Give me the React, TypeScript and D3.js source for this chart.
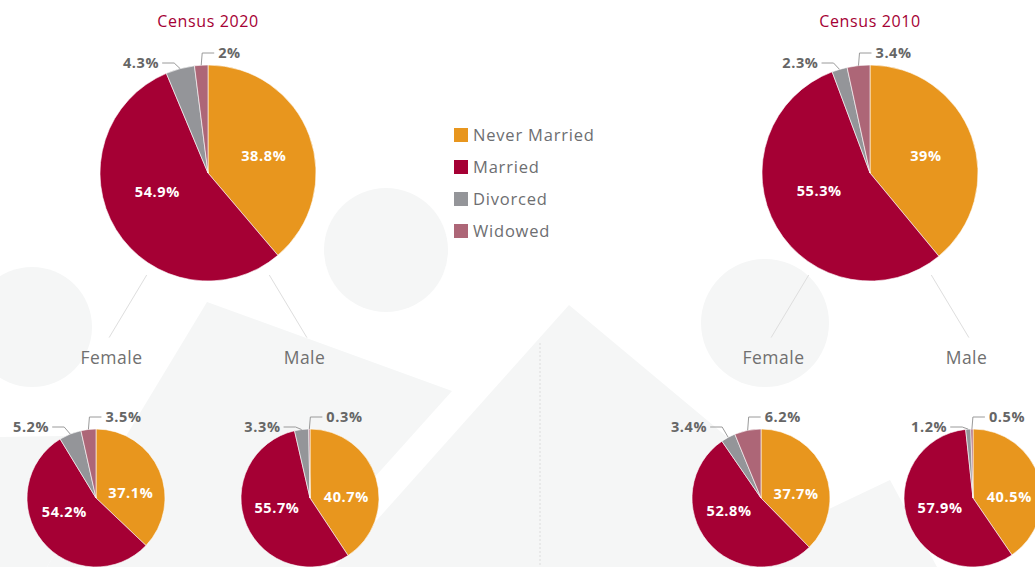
import React from "react";
import * as d3 from "d3";

const categories = ["Never Married", "Married", "Divorced", "Widowed"];
const colors = ["#E8961E", "#A50034", "#949599", "#AD6677"];

const census2020Total = [38.8, 54.9, 4.3, 2];
const census2020Female = [37.1, 54.2, 5.2, 3.5];
const census2020Male = [40.7, 55.7, 3.3, 0.3];
const census2010Total = [39, 55.3, 2.3, 3.4];
const census2010Female = [37.7, 52.8, 3.4, 6.2];
const census2010Male = [40.5, 57.9, 1.2, 0.5];

const titles = ["Census 2020", "Census 2010"];
const subLabels = ["Female", "Male"];

const W = 1035;
const H = 567;
const FONT = "'Open Sans', 'Noto Sans', sans-serif";

const layout = [
  { cx: 208, cy: 173, femaleCx: 96, maleCx: 310 },
  { cx: 870, cy: 173, femaleCx: 761, maleCx: 973 },
];
const BIG_R = 108;
const SMALL_R = 69;
const SMALL_CY = 498;

const pie = d3.pie<number>().sort(null).value((d) => d);

function Pie({ values, cx, cy, r }: { values: number[]; cx: number; cy: number; r: number }) {
  const arcs = pie(values);
  const arc = d3.arc<d3.PieArcDatum<number>>().innerRadius(0).outerRadius(r);
  const polar = (a: number, rad: number) => [cx + rad * Math.sin(a), cy - rad * Math.cos(a)];
  const nmShift = r < 90 ? 10 : 3;
  return (
    <g>
      {arcs.map((a, i) => (
        <path
          key={i}
          d={arc(a) || ""}
          transform={`translate(${cx},${cy})`}
          fill={colors[i]}
          stroke="#fff"
          strokeWidth={0.6}
        />
      ))}
      {arcs.map((a, i) => {
        if (i > 1) return null;
        const mid = i === 0 ? (a.startAngle + a.endAngle) / 2 : (a.startAngle + 2 * Math.PI) / 2;
        const k = i === 0 ? 0.55 : 0.5;
        const [x, y] = polar(mid, r * k);
        return (
          <text
            key={"in" + i}
            x={x}
            y={y + (i === 0 ? nmShift : 0)}
            dy="0.35em"
            textAnchor="middle"
            fill="#fff"
            fontWeight="bold"
            fontSize={14.5}
            letterSpacing={0.6}
            fontFamily={FONT}
          >
            {a.data}%
          </text>
        );
      })}
      {arcs.map((a, i) => {
        if (i < 2) return null;
        const mid = (a.startAngle + a.endAngle) / 2;
        const [ex, ey] = polar(mid, r);
        const left = i === 2;
        const bx = left ? ex - 6 : ex + 1;
        const by = left ? cy - r - 2 : cy - r - 12;
        const hx = left ? bx - 12 : bx + 12;
        return (
          <g key={"out" + i}>
            <polyline
              points={`${ex},${ey} ${bx},${by} ${hx},${by}`}
              fill="none"
              stroke="#9a9a9a"
              strokeWidth={1}
            />
            <text
              x={left ? hx - 3 : hx + 4}
              y={by}
              dy="0.35em"
              textAnchor={left ? "end" : "start"}
              fill="#666"
              fontWeight="bold"
              fontSize={14.5}
              letterSpacing={0.6}
              fontFamily={FONT}
            >
              {a.data}%
            </text>
          </g>
        );
      })}
    </g>
  );
}

const bgFill = "#f5f6f6";

export default function App() {
  const groups = [
    { title: titles[0], total: census2020Total, female: census2020Female, male: census2020Male, ...layout[0] },
    { title: titles[1], total: census2010Total, female: census2010Female, male: census2010Male, ...layout[1] },
  ];
  const poly = (pts: number[][]) => pts.map((p) => p.join(",")).join(" ");
  const lineAng = (31 * Math.PI) / 180;
  return (
    <svg
      width={W}
      height={H}
      style={{ position: "absolute", left: 0, top: 0, background: "#fff" }}
      fontFamily={FONT}
    >
      <g fill={bgFill}>
        <circle cx={32} cy={327} r={60} />
        <circle cx={386} cy={250} r={62} />
        <circle cx={765} cy={323} r={64} />
        <polygon points={poly([[207, 302], [452, 391], [294, 567], [47, 567]])} />
        <polygon points={poly([[0, 437], [125, 435], [47, 567], [0, 567]])} />
        <polygon points={poly([[569, 305], [883, 567], [335, 567]])} />
        <polygon points={poly([[890, 480], [937, 567], [707, 567]])} />
      </g>
      <line x1={540} y1={343} x2={540} y2={H} stroke="#dcdcdc" strokeDasharray="2,2" strokeWidth={1} />

      {groups.map((g, gi) => (
        <g key={gi}>
          <text x={g.cx} y={21} dy="0.35em" textAnchor="middle" fill="#A50034" fontSize={16} letterSpacing={0.6}>
            {g.title}
          </text>
          {[-1, 1].map((s, si) => {
            const r1 = BIG_R + 11;
            const r2 = BIG_R + 84;
            return (
              <line
                key={si}
                x1={g.cx + s * r1 * Math.sin(lineAng)}
                y1={g.cy + r1 * Math.cos(lineAng)}
                x2={g.cx + s * r2 * Math.sin(lineAng)}
                y2={g.cy + r2 * Math.cos(lineAng)}
                stroke="#dedede"
                strokeWidth={1}
              />
            );
          })}
          {[-1, 1].map((s, si) => (
            <text
              key={"l" + si}
              x={g.cx + s * 96.5}
              y={358}
              dy="0.35em"
              textAnchor="middle"
              fill="#707070"
              fontSize={17.5}
              letterSpacing={0.5}
            >
              {subLabels[si]}
            </text>
          ))}
          <Pie values={g.total} cx={g.cx} cy={g.cy} r={BIG_R} />
          <Pie values={g.female} cx={g.femaleCx} cy={SMALL_CY} r={SMALL_R} />
          <Pie values={g.male} cx={g.maleCx} cy={SMALL_CY} r={SMALL_R} />
        </g>
      ))}

      <g>
        {categories.map((c, i) => (
          <g key={c} transform={`translate(454,${135 + i * 32})`}>
            <rect x={0} y={-7} width={14} height={14} fill={colors[i]} />
            <text x={19} y={0} dy="0.35em" fill="#6d6e71" fontSize={16.5} letterSpacing={0.8}>
              {c}
            </text>
          </g>
        ))}
      </g>
    </svg>
  );
}
